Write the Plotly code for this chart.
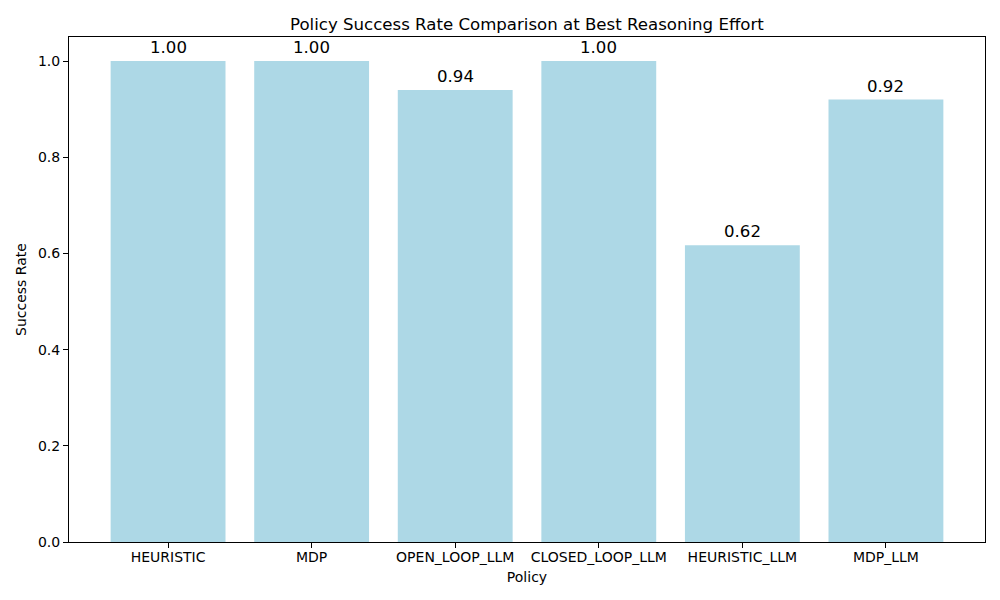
import plotly.graph_objects as go

policies = ['HEURISTIC', 'MDP', 'OPEN_LOOP_LLM', 'CLOSED_LOOP_LLM', 'HEURISTIC_LLM', 'MDP_LLM']
success_rate = [1.00, 1.00, 0.94, 1.00, 0.617, 0.92]

font_family = 'DejaVu Sans'

fig = go.Figure()
fig.add_trace(go.Bar(
    x=list(range(len(policies))),
    y=success_rate,
    width=0.8,
    marker=dict(color='#ADD8E6', line=dict(width=0)),
    hoverinfo='skip',
))

for i, v in enumerate(success_rate):
    fig.add_annotation(
        x=i, y=v, text=f'{v:.2f}', showarrow=False,
        yanchor='bottom', yshift=2,
        font=dict(family=font_family, size=16.6, color='black'),
    )

fig.add_annotation(
    x=0.5, y=1, xref='paper', yref='paper', text='Policy Success Rate Comparison at Best Reasoning Effort',
    showarrow=False, yanchor='bottom', yshift=1,
    font=dict(family=font_family, size=16.6, color='black'),
)

# page body has an 8px margin, so the figure is a bit smaller than the window
fig.update_layout(
    width=992, height=592,
    margin=dict(l=57, r=15, t=29, b=58),
    plot_bgcolor='white', paper_bgcolor='white',
    showlegend=False,
    font=dict(family=font_family, size=14, color='black'),
    xaxis=dict(
        range=[-0.69, 5.69],
        tickmode='array', tickvals=list(range(len(policies))), ticktext=policies,
        showline=True, linecolor='black', linewidth=1, mirror=True,
        ticks='outside', ticklen=5, tickcolor='black',
        ticklabelstandoff=-3,
        showgrid=False, zeroline=False,
        title=dict(text='Policy', standoff=8, font=dict(size=14)),
    ),
    yaxis=dict(
        range=[0, 1.05],
        tickmode='array', tickvals=[0, 0.2, 0.4, 0.6, 0.8, 1.0],
        ticktext=['0.0', '0.2', '0.4', '0.6', '0.8', '1.0'],
        showline=True, linecolor='black', linewidth=1, mirror=True,
        ticks='outside', ticklen=5, tickcolor='black',
        showgrid=False, zeroline=False,
        title=dict(text='Success Rate', standoff=8, font=dict(size=14)),
    ),
)

fig.write_html('out.html')
